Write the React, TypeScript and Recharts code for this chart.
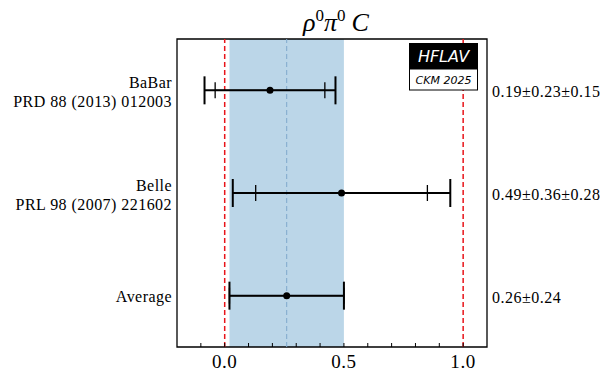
import {
  ErrorBar,
  ReferenceArea,
  ReferenceLine,
  Scatter,
  ScatterChart,
  XAxis,
  YAxis,
} from 'recharts';

// measurements, top to bottom
const experiments = ['BaBar', 'Belle', 'Average'];
const references = ['PRD 88 (2013) 012003', 'PRL 98 (2007) 221602', ''];
const centralValues = [0.19, 0.49, 0.26];
const statErrors = [0.23, 0.36, 0.24];
const systErrors = [0.15, 0.28, 0];
const valueLabels = ['0.19±0.23±0.15', '0.49±0.36±0.28', '0.26±0.24'];

// world average band
const averageValue = 0.26;
const averageError = 0.24;

// physical boundaries shown as red dashed lines
const boundaries = [0, 1];

const xTicks = [-0.1, 0, 0.1, 0.2, 0.3, 0.4, 0.5, 0.6, 0.7, 0.8, 0.9, 1.0];
const xTickLabels = [0, 0.5, 1.0];

const SERIF = '"Liberation Serif", "Times New Roman", serif';
const SANS = '"DejaVu Sans", Verdana, sans-serif';

const X_DOMAIN: [number, number] = [-0.2, 1.1];
const Y_DOMAIN: [number, number] = [-0.5, 2.5];

const rows = experiments.map((name, i) => ({
  name,
  row: i,
  value: centralValues[i],
  stat: statErrors[i],
  total: Math.sqrt(statErrors[i] ** 2 + systErrors[i] ** 2),
}));

function XTick(props: any) {
  const { x, y, payload } = props;
  const v = payload.value as number;
  const labelled = xTickLabels.some((t) => Math.abs(t - v) < 1e-9);
  return (
    <g>
      <line x1={x} x2={x} y1={y} y2={y - 4} stroke="#000" strokeWidth={1} />
      {labelled && (
        <text
          x={x}
          y={y + 21}
          textAnchor="middle"
          fontFamily={SERIF}
          fontSize={19}
          letterSpacing={0.6}
          fill="#000"
        >
          {v.toFixed(1)}
        </text>
      )}
    </g>
  );
}

function LeftTick(props: any) {
  const { x, y, payload } = props;
  const i = payload.value as number;
  const ref = references[i];
  return (
    <text
      x={x - 5}
      textAnchor="end"
      fontFamily={SERIF}
      fontSize={16}
      letterSpacing={0.45}
      fill="#000"
    >
      {ref ? (
        <>
          <tspan x={x - 5} y={y - 2}>
            {experiments[i]}
          </tspan>
          <tspan x={x - 5} y={y + 17}>
            {ref}
          </tspan>
        </>
      ) : (
        <tspan x={x - 5} y={y + 6}>
          {experiments[i]}
        </tspan>
      )}
    </text>
  );
}

function RightTick(props: any) {
  const { x, y, payload } = props;
  const i = payload.value as number;
  return (
    <text
      x={x + 5}
      y={y + 7}
      textAnchor="start"
      fontFamily={SERIF}
      fontSize={16}
      letterSpacing={0.5}
      fill="#000"
    >
      {valueLabels[i]}
    </text>
  );
}

function Dot(props: any) {
  const { cx, cy } = props;
  return <circle cx={cx} cy={cy} r={3.5} fill="#000" />;
}

const NoShape = () => <g />;

export default function App() {
  return (
    <div
      style={{
        position: 'absolute',
        left: 0,
        top: 0,
        width: 614,
        height: 382,
        background: '#fff',
      }}
    >
      <ScatterChart
        width={614}
        height={382}
        margin={{ top: 39, right: 7, bottom: 0, left: 7 }}
      >
        <XAxis
          type="number"
          dataKey="value"
          domain={X_DOMAIN}
          ticks={xTicks}
          interval={0}
          allowDataOverflow
          axisLine={false}
          tickLine={false}
          tickSize={0}
          tickMargin={0}
          height={35}
          tick={<XTick />}
        />
        <YAxis
          yAxisId="left"
          type="number"
          dataKey="row"
          domain={Y_DOMAIN}
          ticks={[0, 1, 2]}
          interval={0}
          reversed
          axisLine={false}
          tickLine={false}
          tickSize={0}
          tickMargin={0}
          width={170}
          tick={<LeftTick />}
        />
        <YAxis
          yAxisId="right"
          orientation="right"
          type="number"
          dataKey="row"
          domain={Y_DOMAIN}
          ticks={[0, 1, 2]}
          interval={0}
          reversed
          axisLine={false}
          tickLine={false}
          tickSize={0}
          tickMargin={0}
          width={120}
          tick={<RightTick />}
        />
        <ReferenceArea
          yAxisId="left"
          x1={averageValue - averageError}
          x2={averageValue + averageError}
          y1={Y_DOMAIN[0]}
          y2={Y_DOMAIN[1]}
          fill="#1f77b4"
          fillOpacity={0.3}
          stroke="none"
        />
        <ReferenceLine
          yAxisId="left"
          x={averageValue}
          stroke="#7fa9cc"
          strokeWidth={1}
          strokeDasharray="5 3"
        />
        {boundaries.map((b) => (
          <ReferenceLine
            key={b}
            yAxisId="left"
            x={b}
            stroke="#e8141a"
            strokeWidth={1.5}
            strokeDasharray="5 3"
          />
        ))}
        {/* invisible series so the right-hand value axis has data */}
        <Scatter
          yAxisId="right"
          data={rows}
          dataKey="row"
          shape={<NoShape />}
          isAnimationActive={false}
        />
        <Scatter
          yAxisId="left"
          data={rows}
          dataKey="row"
          shape={<Dot />}
          isAnimationActive={false}
        >
          <ErrorBar
            dataKey="total"
            direction="x"
            width={14}
            stroke="#000"
            strokeWidth={2}
            isAnimationActive={false}
          />
          <ErrorBar
            dataKey="stat"
            direction="x"
            width={8}
            stroke="#000"
            strokeWidth={1.3}
            isAnimationActive={false}
          />
        </Scatter>
        <ReferenceArea
          yAxisId="left"
          x1={X_DOMAIN[0]}
          x2={X_DOMAIN[1]}
          y1={Y_DOMAIN[0]}
          y2={Y_DOMAIN[1]}
          fill="none"
          stroke="#000"
          strokeWidth={1.3}
        />
      </ScatterChart>
      <svg
        width={614}
        height={382}
        style={{ position: 'absolute', left: 0, top: 0, pointerEvents: 'none' }}
      >
        <text x={336} y={31} textAnchor="middle" fontFamily={SERIF} fontSize={26} fill="#000">
          <tspan fontStyle="italic">ρ</tspan>
          <tspan fontSize={17} dy={-10}>0</tspan>
          <tspan fontStyle="italic" dy={10}>π</tspan>
          <tspan fontSize={17} dy={-10}>0</tspan>
          <tspan fontStyle="italic" dy={10} dx={6}>C</tspan>
        </text>
        <rect x={409} y={43} width={69} height={26} fill="#000" />
        <text
          x={443.5}
          y={62}
          textAnchor="middle"
          fontFamily={SANS}
          fontStyle="italic"
          fontSize={16}
          fill="#fff"
        >
          HFLAV
        </text>
        <rect x={409.5} y={69} width={68} height={21} fill="#fff" stroke="#000" strokeWidth={1} />
        <text
          x={443.5}
          y={84}
          textAnchor="middle"
          fontFamily={SANS}
          fontStyle="italic"
          fontSize={11}
          fill="#000"
        >
          CKM 2025
        </text>
      </svg>
    </div>
  );
}
